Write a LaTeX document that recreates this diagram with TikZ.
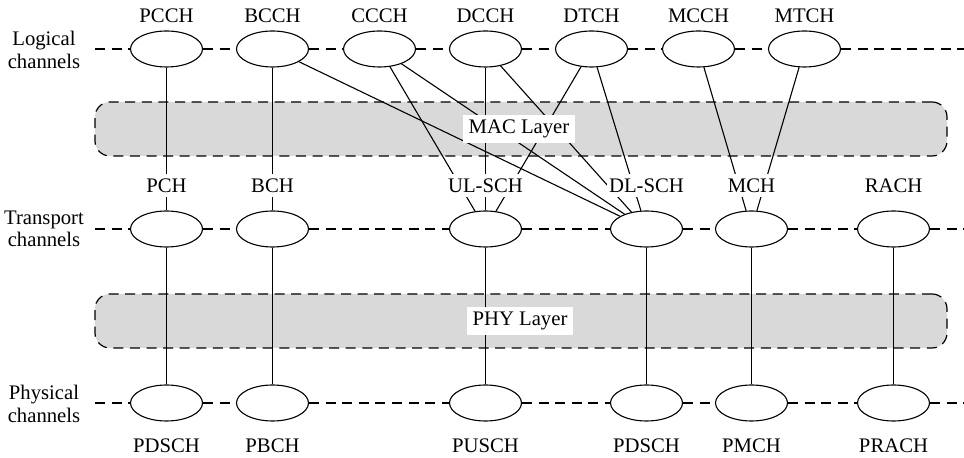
\documentclass[tikz,border=0pt]{standalone}
\usepackage{fontspec}
\setmainfont{Liberation Serif}
\usetikzlibrary{shapes.geometric}
\begin{document}
\begin{tikzpicture}[x=0.5pt,y=-0.5pt,
  font=\fontsize{10.35}{11.2}\selectfont,
  chan/.style={ellipse,draw,fill=white,line width=0.55pt,
    minimum width=36pt,minimum height=18pt,inner sep=0pt},
  lbl/.style={fill=white,inner xsep=1pt,inner ysep=2.5pt},
  side/.style={align=center,inner sep=0pt},
  guide/.style={line width=0.6pt,dash pattern=on 5pt off 3.3pt},
  layerbox/.style={draw,fill=black!15,line width=0.6pt,
    dash pattern=on 5pt off 3.3pt,rounded corners=7.5pt,
    minimum width=426pt,minimum height=27pt,inner sep=0pt},
  layername/.style={fill=white,inner xsep=3pt,inner ysep=2.5pt},
  link/.style={line width=0.55pt}]
\useasboundingbox (0,0) rectangle (964,458);

% protocol layers
\node[layerbox] (mac) at (521,129) {};
\node[layerbox] (phy) at (521,321) {};

% row names
\node[side] (nlog) at (44,50) {Logical\\channels};
\node[side] (ntr)  at (44,229) {Transport\\channels};
\node[side] (nph)  at (44,404) {Physical\\channels};

% logical channels
\node[chan] (pcch) at (166.5,49) {};
\node[chan] (bcch) at (272.5,49) {};
\node[chan] (ccch) at (379.5,49) {};
\node[chan] (dcch) at (485.5,49) {};
\node[chan] (dtch) at (591.5,49) {};
\node[chan] (mcch) at (698.5,49) {};
\node[chan] (mtch) at (804.5,49) {};

% transport channels
\node[chan] (pch)  at (166.5,229) {};
\node[chan] (bch)  at (272.5,229) {};
\node[chan] (ulsch) at (485.5,229) {};
\node[chan] (dlsch) at (646.5,229) {};
\node[chan] (mch)  at (751.5,229) {};
\node[chan] (rach) at (893.5,229) {};

% physical channels
\node[chan] (pdscha) at (166.5,403) {};
\node[chan] (pbch)  at (272.5,403) {};
\node[chan] (pusch) at (485.5,403) {};
\node[chan] (pdschb) at (646.5,403) {};
\node[chan] (pmch)  at (751.5,403) {};
\node[chan] (prach) at (893.5,403) {};

% dashed row guides
\coordinate (gla) at (95,49);   \coordinate (glb) at (964,49);
\coordinate (gta) at (95,229);  \coordinate (gtb) at (964,229);
\coordinate (gpa) at (95,403);  \coordinate (gpb) at (964,403);
\draw[guide] (gla) -- (pcch) -- (bcch) -- (ccch) -- (dcch) -- (dtch) -- (mcch) -- (mtch) -- (glb);
\draw[guide] (gta) -- (pch) -- (bch) -- (ulsch) -- (dlsch) -- (mch) -- (rach) -- (gtb);
\draw[guide] (gpa) -- (pdscha) -- (pbch) -- (pusch) -- (pdschb) -- (pmch) -- (prach) -- (gpb);

% logical to transport mapping
\draw[link] (pcch) -- (pch);
\draw[link] (bcch) -- (bch);
\draw[link] (bcch) -- (dlsch);
\draw[link] (ccch) -- (ulsch);
\draw[link] (ccch) -- (dlsch);
\draw[link] (dcch) -- (ulsch);
\draw[link] (dcch) -- (dlsch);
\draw[link] (dtch) -- (ulsch);
\draw[link] (dtch) -- (dlsch);
\draw[link] (mcch) -- (mch);
\draw[link] (mtch) -- (mch);

% transport to physical mapping
\draw[link] (pch) -- (pdscha);
\draw[link] (bch) -- (pbch);
\draw[link] (ulsch) -- (pusch);
\draw[link] (dlsch) -- (pdschb);
\draw[link] (mch) -- (pmch);
\draw[link] (rach) -- (prach);

% layer names
\node[layername] (macname) at (519,129) {MAC Layer};
\node[layername] (phyname) at (520,321) {PHY Layer};

% channel names
\node[lbl] (tpcch) at (166.5,15.5) {PCCH};
\node[lbl] (tbcch) at (272.5,15.5) {BCCH};
\node[lbl] (tccch) at (379.5,15.5) {CCCH};
\node[lbl] (tdcch) at (485.5,15.5) {DCCH};
\node[lbl] (tdtch) at (591.5,15.5) {DTCH};
\node[lbl] (tmcch) at (698.5,15.5) {MCCH};
\node[lbl] (tmtch) at (804.5,15.5) {MTCH};

\node[lbl] (tpch)  at (166.5,185.5) {PCH};
\node[lbl] (tbch)  at (272.5,185.5) {BCH};
\node[lbl] (tulsch) at (485.5,185.5) {UL-SCH};
\node[lbl] (tdlsch) at (646.5,185.5) {DL-SCH};
\node[lbl] (tmch)  at (751.5,185.5) {MCH};
\node[lbl] (trach) at (893.5,185.5) {RACH};

\node[lbl] (tpdscha) at (166.5,445.5) {PDSCH};
\node[lbl] (tpbch)  at (272.5,445.5) {PBCH};
\node[lbl] (tpusch) at (485.5,445.5) {PUSCH};
\node[lbl] (tpdschb) at (646.5,445.5) {PDSCH};
\node[lbl] (tpmch)  at (751.5,445.5) {PMCH};
\node[lbl] (tprach) at (893.5,445.5) {PRACH};
\end{tikzpicture}
\end{document}
